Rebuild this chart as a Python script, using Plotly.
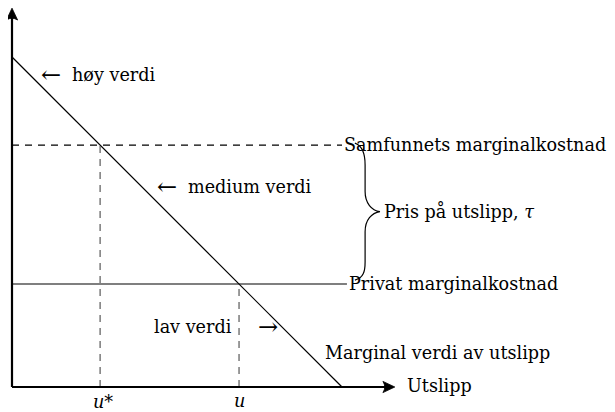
import plotly.graph_objects as go

# --- data (model units) ---
demand_x = [0.0, 10.0]          # marginal value of emissions: from intercept to zero
demand_y = [10.0, 0.0]
private_mc = 3.12               # private marginal cost
social_mc = 7.33                # social marginal cost
line_end = 10.0
u_star = 10.0 - social_mc       # optimal emissions
u_priv = 10.0 - private_mc      # private emissions
x_axis_end = 11.6
y_axis_end = 11.48

FONT = "DejaVu Serif"
FS = 17.6
AFS = 24

fig = go.Figure()

# demand (marginal value)
fig.add_trace(go.Scatter(x=demand_x, y=demand_y, mode="lines",
                         line=dict(color="black", width=1.2), hoverinfo="skip"))
# social marginal cost (dashed)
fig.add_trace(go.Scatter(x=[0, line_end], y=[social_mc, social_mc], mode="lines",
                         line=dict(color="black", width=1.1, dash="7px,6px"), hoverinfo="skip"))
# private marginal cost
fig.add_trace(go.Scatter(x=[0, line_end + 0.15], y=[private_mc, private_mc], mode="lines",
                         line=dict(color="black", width=1.1), hoverinfo="skip"))
# vertical dashed guides
fig.add_trace(go.Scatter(x=[u_star, u_star], y=[0, social_mc], mode="lines",
                         line=dict(color="#666666", width=1.3, dash="7px,6px"), hoverinfo="skip"))
fig.add_trace(go.Scatter(x=[u_priv, u_priv], y=[0, private_mc], mode="lines",
                         line=dict(color="#666666", width=1.3, dash="7px,6px"), hoverinfo="skip"))

# axes
fig.add_trace(go.Scatter(x=[0, x_axis_end - 0.2], y=[0, 0], mode="lines",
                         line=dict(color="black", width=2.2), hoverinfo="skip"))
fig.add_trace(go.Scatter(x=[0, 0], y=[0, y_axis_end - 0.2], mode="lines",
                         line=dict(color="black", width=2.2), hoverinfo="skip"))
L, W, B = 0.36, 0.17, 0.25
fig.add_shape(type="path", xref="x", yref="y",
              path=(f"M {x_axis_end},0 L {x_axis_end-L},{W} Q {x_axis_end-B},0 "
                    f"{x_axis_end-L},{-W} Z"),
              fillcolor="black", line=dict(color="black", width=0.8))
fig.add_shape(type="path", xref="x", yref="y",
              path=(f"M 0,{y_axis_end} L {W},{y_axis_end-L} Q 0,{y_axis_end-B} "
                    f"{-W},{y_axis_end-L} Z"),
              fillcolor="black", line=dict(color="black", width=0.8))

# curly brace between the two cost lines
yt = social_mc + 0.06
yb = private_mc + 0.12
ym = (yt + yb) / 2
xa, xv, xt = 10.39, 10.70, 11.15
path = (f"M {xa},{yt} C {xa+0.26},{yt-0.09} {xv},{yt-0.35} {xv},{yt-0.66} "
        f"L {xv},{ym+0.61} C {xv},{ym+0.25} {xv+0.2},{ym+0.04} {xt},{ym} "
        f"C {xv+0.2},{ym-0.04} {xv},{ym-0.25} {xv},{ym-0.61} "
        f"L {xv},{yb+0.55} C {xv},{yb+0.26} {xa+0.26},{yb+0.06} {xa},{yb}")
fig.add_shape(type="path", path=path, xref="x", yref="y",
              line=dict(color="black", width=1.2))

def label(text, x, y, xanchor="left", yanchor="middle", size=FS, style="normal"):
    fig.add_annotation(x=x, y=y, xref="x", yref="y", text=text, showarrow=False,
                       xanchor=xanchor, yanchor=yanchor,
                       font=dict(family=FONT, size=size, color="black", style=style))

label("←", 1.18, 9.45, xanchor="center", size=AFS)
label("høy verdi", 1.76, 9.45)
label("←", 4.70, 6.06, xanchor="center", size=AFS)
label("medium verdi", 5.27, 6.06)
label("lav verdi", 6.72, 1.82, xanchor="right")
label("→", 7.76, 1.82, xanchor="center", size=AFS)
label("Marginal verdi av utslipp", 9.42, 1.03)
label("Samfunnets marginalkostnad", line_end, social_mc)
label("Privat marginalkostnad", line_end + 0.15, private_mc)
label("Pris på utslipp, <i>τ</i>", xt + 0.05, ym)
label("Utslipp", x_axis_end + 0.3, 0.03)
label("u*", u_star + 0.1, -0.45, xanchor="center", style="italic")
label("u", u_priv, -0.42, xanchor="center", style="italic")

# page has an 8px body margin: shrink the figure and place the origin accordingly
S = 33.0
fig.update_layout(
    width=607, height=404,
    margin=dict(l=0, r=0, t=0, b=0),
    paper_bgcolor="white", plot_bgcolor="white",
    showlegend=False,
    xaxis=dict(range=[-4 / S, 603 / S], visible=False, fixedrange=True),
    yaxis=dict(range=[-25 / S, 379 / S], visible=False, fixedrange=True),
)

fig.write_html("out.html")
